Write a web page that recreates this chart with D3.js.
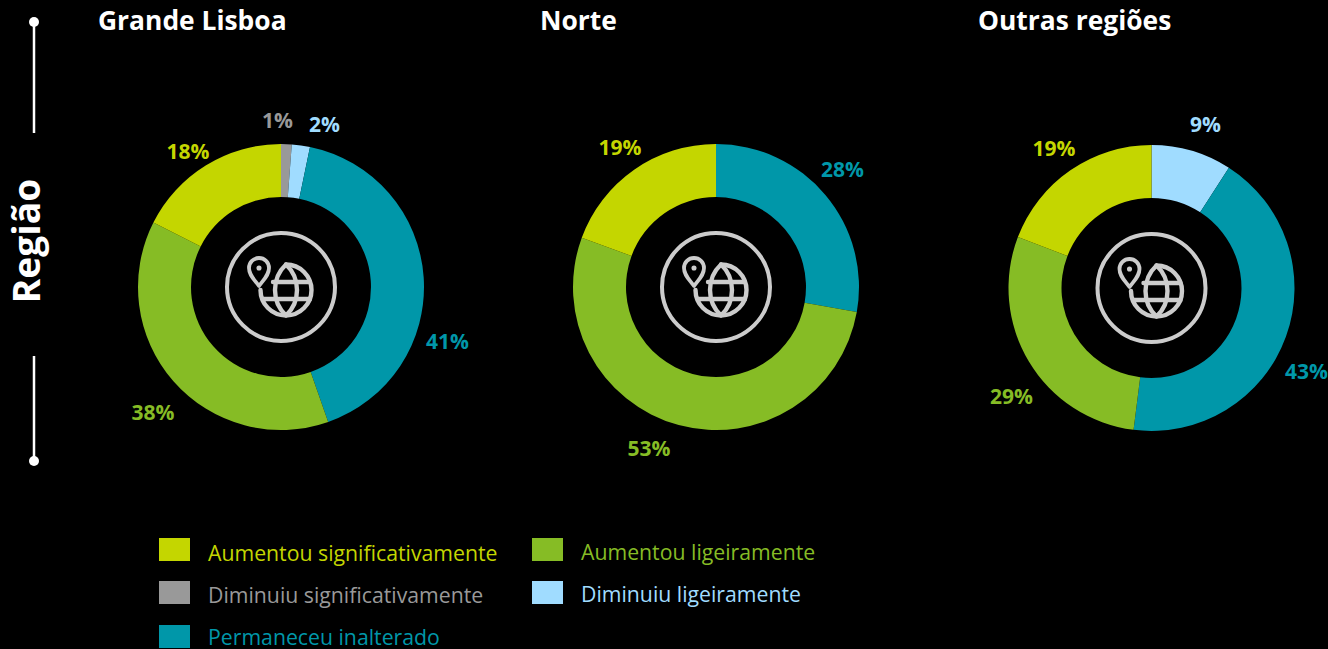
<!DOCTYPE html>
<html><head><meta charset="utf-8">
<script src="https://cdnjs.cloudflare.com/ajax/libs/d3/7.8.5/d3.min.js"></script>
<style>html,body{margin:0;padding:0;background:#000;overflow:hidden}svg{display:block}text{font-family:"Open Sans",sans-serif}</style>
</head><body><svg id="c" width="1328" height="649"></svg>
<script>
const categories=["Diminuiu significativamente","Diminuiu ligeiramente","Permaneceu inalterado","Aumentou ligeiramente","Aumentou significativamente"];
const colors=["#999999","#a0dcff","#0097a9","#86bc25","#c4d600"];
const regions=["Grande Lisboa","Norte","Outras regiões"];
const lisboa=[1.2,2.05,41.4,37.8,17.55];
const norte=[0,0,27.8,52.8,19.4];
const outras=[0,9.1,42.9,28.8,19.2];
const legendOrder=[[4,3],[0,1],[2]];

const svg=d3.select("#c");
const color=d3.scaleOrdinal().domain(categories).range(colors);
const pie=d3.pie().sort(null);
const arc=d3.arc().innerRadius(90).outerRadius(143);

const panels=[
 {name:regions[0],vals:lisboa,cx:281,cy:287,tx:98,
  labels:[[277.5,128],[324.5,132],[447.5,349],null,null],lab3:[153,420],lab4:[188,159]},
 {name:regions[1],vals:norte,cx:716,cy:287,tx:540,
  labels:[null,null,[842.5,177],null,null],lab3:[649,456],lab4:[620,155]},
 {name:regions[2],vals:outras,cx:1151.5,cy:288,tx:978,
  labels:[null,[1205.5,132],[1306.5,379],null,null],lab3:[1011.5,404],lab4:[1054,156]}
];

panels.forEach(p=>{
  svg.append("text").attr("x",p.tx).attr("y",30).attr("fill","#fff")
    .attr("font-size",26.4).attr("font-weight",700).text(p.name);
  const g=svg.append("g").attr("transform",`translate(${p.cx},${p.cy})`);
  const arcs=pie(p.vals);
  g.selectAll("path.s").data(arcs).join("path").attr("class","s")
    .attr("d",arc).attr("fill",(d,i)=>color(categories[i]));
  const pos=[...p.labels]; pos[3]=p.lab3; pos[4]=p.lab4;
  p.vals.forEach((v,i)=>{
    if(!v)return;
    svg.append("text").attr("x",pos[i][0]).attr("y",pos[i][1])
      .attr("text-anchor","middle").attr("font-size",21).attr("font-weight",700)
      .attr("fill",colors[i]).text(Math.round(v)+"%");
  });
  // icon
  const ic=g.append("g").attr("fill","none").attr("stroke","#cccccc").attr("stroke-width",4).attr("stroke-linecap","round").attr("stroke-linejoin","round");
  ic.append("circle").attr("r",54);
  ic.append("path").attr("stroke-width",3.8).attr("d","M-22,-1 C-27,-8 -32,-12 -32,-19 A10,10 0 0 1 -12,-19 C-12,-12 -17,-8 -22,-1 Z");
  ic.append("circle").attr("cx",-22).attr("cy",-19).attr("r",1.8).attr("fill","#cccccc").attr("stroke-width",1.5);
  const gl=ic.append("g").attr("transform","translate(5,3)").attr("stroke-width",4.4);
  gl.append("path").attr("d","M-25.5,0 A25.5,25.5 0 1 0 0,-25.5");
  gl.append("path").attr("d","M0,-25.5 C-7,-19 -11,-10 -11,0 C-11,10 -7,19 0,25.5 C7,19 11,10 11,0 C11,-10 7,-19 0,-25.5");
  gl.append("path").attr("d","M-13,-8 L24,-8 M-23,9 L24,9");
});

// side axis title
const sx=34;
svg.append("line").attr("x1",sx).attr("x2",sx).attr("y1",22).attr("y2",133).attr("stroke","#fff").attr("stroke-width",2.5);
svg.append("line").attr("x1",sx).attr("x2",sx).attr("y1",356).attr("y2",461).attr("stroke","#fff").attr("stroke-width",2.5);
svg.append("circle").attr("cx",sx).attr("cy",22).attr("r",5).attr("fill","#fff");
svg.append("circle").attr("cx",sx).attr("cy",461).attr("r",5).attr("fill","#fff");
svg.append("text").attr("transform","translate(39.5,241) rotate(-90)").attr("text-anchor","middle")
  .attr("fill","#fff").attr("font-size",37.2).attr("font-weight",700).text("Região");

// legend
const colX=[159,532], rowY=[538,581,625], rowT=[561,603,645], rowT2=[560,602];
legendOrder.forEach((row,r)=>row.forEach((ci,c)=>{
  svg.append("rect").attr("x",colX[c]).attr("y",rowY[r]).attr("width",31).attr("height",23).attr("fill",colors[ci]);
  svg.append("text").attr("x",colX[c]+49).attr("y",c==0?rowT[r]:rowT2[r]).attr("font-size",21.25)
    .attr("fill",colors[ci]).text(categories[ci]);
}));
</script></body></html>
